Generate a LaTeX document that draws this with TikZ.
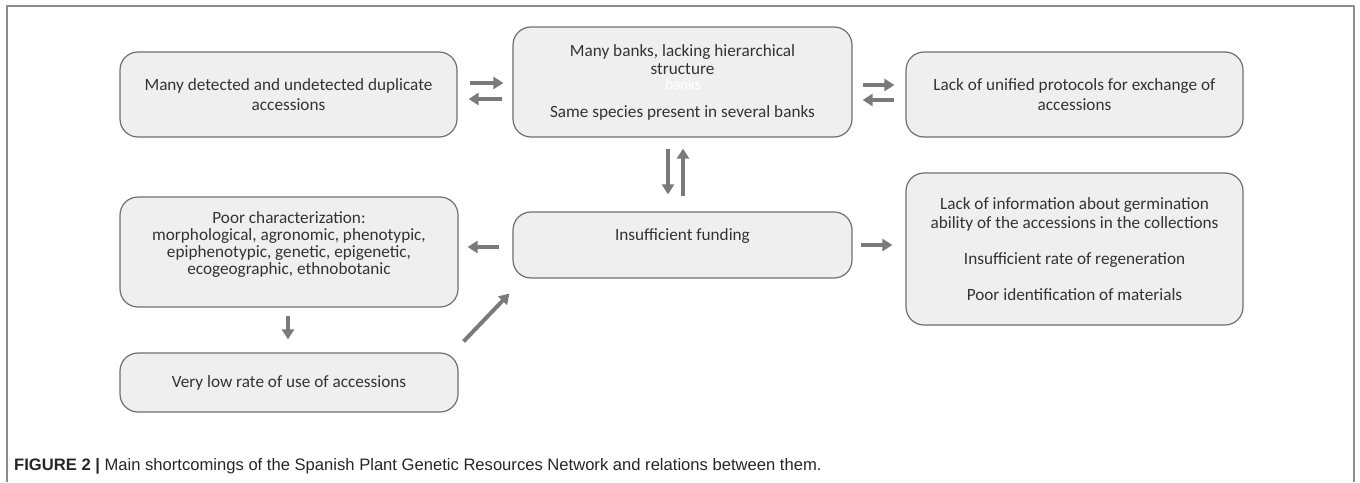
\documentclass[tikz,border=0pt]{standalone}
\usepackage{fontspec}
\setmainfont{Carlito}
\newfontfamily\capfont{Liberation Sans}
\usetikzlibrary{arrows.meta}
\definecolor{boxfill}{HTML}{EFEFEF}
\definecolor{boxline}{HTML}{6F6F6F}
\definecolor{arrgrey}{HTML}{7A7A7A}
\definecolor{txtgrey}{HTML}{333333}
\definecolor{framegrey}{HTML}{8C8C8C}
\begin{document}
\begin{tikzpicture}[x=1pt,y=-1pt,line join=round,
  box/.style={draw=boxline,line width=1.2pt,fill=boxfill,rounded corners=18pt,align=center,
    text=txtgrey,font=\fontsize{17.2}{20}\selectfont,inner sep=0pt},
  arr/.style={draw=arrgrey,line width=4pt,-{Triangle[length=10pt,width=12pt]}}]
\useasboundingbox (0,0) rectangle (1360,482);
\draw[framegrey,line width=1.5pt] (7,482) -- (7,6) -- (1354,6) -- (1354,482);
\node[box,minimum width=337pt,minimum height=85pt] (dupl) at (288.5,94.5)
  {Many detected and undetected duplicate\\accessions};
\node[box,minimum width=339pt,minimum height=110pt,font=\fontsize{17.2}{18}\selectfont] (banks) at (682.5,82)
  {Many banks, lacking hierarchical\\structure\\[25pt]Same species present in several banks};
\node[text=white,font=\fontsize{15}{16}\selectfont,inner sep=0pt] (ghost) at (683,84) {banks};
\node[box,minimum width=337pt,minimum height=85pt] (proto) at (1074.5,94.5)
  {Lack of unified protocols for exchange of\\accessions};
\node[box,minimum width=339pt,minimum height=66pt] (fund) at (682.5,245)
  {Insufficient funding\\\mbox{}};
\node[box,minimum width=338pt,minimum height=110pt,font=\fontsize{17.2}{17}\selectfont] (poor) at (289,252)
  {Poor characterization:\\morphological, agronomic, phenotypic,\\epiphenotypic, genetic, epigenetic,\\ecogeographic, ethnobotanic\\\mbox{}};
\node[box,minimum width=337pt,minimum height=152pt,font=\fontsize{17.2}{19}\selectfont] (germ) at (1074.5,249)
  {Lack of information about germination\\ability of the accessions in the collections\\[17pt]Insufficient rate of regeneration\\[17pt]Poor identification of materials};
\node[box,minimum width=338pt,minimum height=59pt] (lowuse) at (289,382.5)
  {Very low rate of use of accessions};
\draw[arr,shorten <=12pt,shorten >=9pt] ([yshift=11.5pt]dupl.east) -- ([yshift=11.5pt]dupl.east -| banks.west);
\draw[arr,shorten <=10pt,shorten >=11pt] ([yshift=-4.5pt]dupl.east -| banks.west) -- ([yshift=-4.5pt]dupl.east);
\draw[arr,shorten <=10pt,shorten >=11pt] ([yshift=-3pt]banks.east) -- ([yshift=-3pt]banks.east -| proto.west);
\draw[arr,shorten <=11pt,shorten >=10pt] ([yshift=-18pt]banks.east -| proto.west) -- ([yshift=-18pt]banks.east);
\draw[arr,shorten <=11pt,shorten >=17pt] ([xshift=-14.5pt]banks.south) -- ([xshift=-14.5pt]banks.south |- fund.north);
\draw[arr,shorten <=15pt,shorten >=11pt] ([xshift=0.5pt]banks.south |- fund.north) -- ([xshift=0.5pt]banks.south);
\draw[arr,shorten <=13pt,shorten >=9pt] ([yshift=-2pt]fund.west) -- ([yshift=-2pt]fund.west -| poor.east);
\draw[arr,shorten <=8pt,shorten >=13pt] (fund.east) -- (fund.east -| germ.west);
\draw[arr,shorten <=8pt,shorten >=13pt] ([xshift=-1pt]poor.south) -- ([xshift=-1pt]lowuse.north);
\draw[arr] ([shift={(5,-11)}]lowuse.north east) -- ([shift={(-3,15)}]fund.south west);
\node[anchor=base west,font=\capfont\fontsize{16.6}{19}\selectfont,text=black!85,inner sep=0pt] (cap) at (14,470)
  {\textbf{FIGURE 2 |} Main shortcomings of the Spanish Plant Genetic Resources Network and relations between them.};
\end{tikzpicture}
\end{document}
